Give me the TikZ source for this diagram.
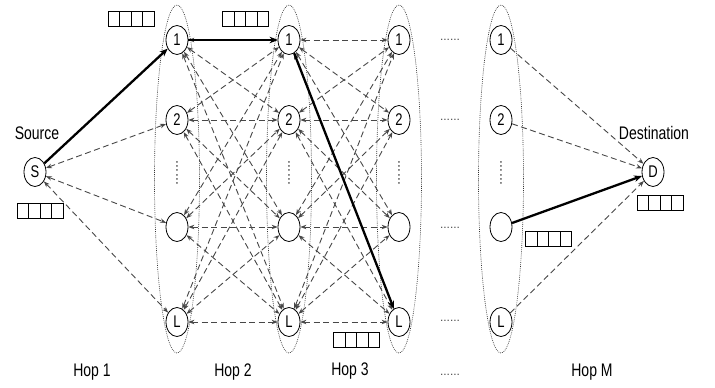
\documentclass[tikz,border=0pt]{standalone}
\usepackage{fontspec}
\setmainfont{Liberation Sans}
\usepackage{graphicx}
\usetikzlibrary{arrows.meta,shapes.geometric}
\newcommand{\tall}[1]{\scalebox{1}[1.3]{#1}}

\begin{document}
\begin{tikzpicture}[x=1pt, y=-1pt,
    >={Stealth[length=6pt,width=4.5pt]},
    relay/.style={draw, ellipse, minimum width=22pt, minimum height=29pt, inner sep=0pt, line width=0.8pt, font=\fontsize{13}{15}\selectfont},
    hopgrp/.style={draw=black!80, ellipse, dash pattern=on 0.8pt off 1.1pt, line width=0.65pt, minimum width=45pt, minimum height=348pt, inner sep=0pt},
    link/.style={<->, dash pattern=on 6pt off 3.5pt, line width=0.9pt, draw=black!72},
    route/.style={->, line width=2.3pt, >={Stealth[length=8pt,width=6.5pt]}},
    queue/.style={draw, line width=0.8pt, minimum width=46pt, minimum height=15pt, inner sep=0pt,
      path picture={\foreach \k in {1,2,3} \draw[line width=0.8pt] ([xshift=\k*11.5pt]path picture bounding box.south west) -- ([xshift=\k*11.5pt]path picture bounding box.north west);}},
    lbl/.style={font=\fontsize{14}{16}\selectfont, inner sep=0pt},
    more/.style={font=\fontsize{12}{14}\selectfont, inner sep=0pt, text=black!70},
    vdots/.style={font=\fontsize{15}{17}\selectfont, inner sep=0pt, rotate=90, text=black!70}]
    \useasboundingbox (0,0) rectangle (715,388);
    % hop groups and relays
    \foreach \x/\g in {177/1, 289/2, 399/3, 501/M} {
      \node[hopgrp] (grp\g) at (\x,179) {};
      \node[relay] (h\g-1) at (\x,40) {\tall{1}};
      \node[relay] (h\g-2) at (\x,120) {\tall{2}};
      \node[relay] (h\g-3) at (\x,227) {};
      \node[relay] (h\g-4) at (\x,322) {\tall{L}};
      \node[vdots] (vd\g) at (\x,173) {......};
    }
    \node[relay] (src) at (35,172) {\tall{S}};
    \node[relay] (dst) at (653,172) {\tall{D}};
    \node[lbl] (srclbl) at (37,133) {\tall{Source}};
    \node[lbl] (dstlbl) at (654,133) {\tall{Destination}};
    \foreach \y/\n in {40/1, 120/2, 228/3, 321/4, 375/5}
      \node[more] (gap\n) at (450,\y) {......};
    % links
    \foreach \r in {2,3,4} \draw[link] (src) -- (h1-\r);
    \foreach \a/\b in {1/2, 2/3}
      \foreach \i in {1,...,4}
        \foreach \j in {1,...,4}
          \draw[link] (h\a-\i) -- (h\b-\j);
    \foreach \r in {1,2,4} \draw[link, -{Stealth[length=6pt,width=4.5pt]}] (hM-\r) -- (dst);
    % chosen route
    \draw[route] (src) -- (h1-1);
    \draw[route] (h1-1) -- (h2-1);
    \draw[route] (h2-1) -- (h3-4);
    \draw[route] (hM-3) -- (dst);
    % buffers
    \node[queue] (q1) at (131,18.5) {};
    \node[queue] (q2) at (245.5,18.5) {};
    \node[queue] (qs) at (40,211) {};
    \node[queue] (q3) at (356.5,340) {};
    \node[queue] (qm) at (548.5,238.5) {};
    \node[queue] (qd) at (660,203) {};
    % hop labels
    \node[lbl] (hop1) at (92,372) {\tall{Hop 1}};
    \node[lbl] (hop2) at (233,372) {\tall{Hop 2}};
    \node[lbl] (hop3) at (350,371) {\tall{Hop 3}};
    \node[lbl] (hopM) at (592,372) {\tall{Hop M}};
  \end{tikzpicture}
\end{document}
